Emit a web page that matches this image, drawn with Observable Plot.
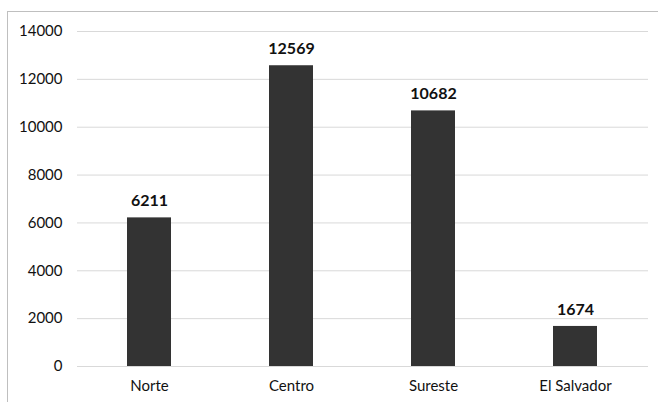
<!DOCTYPE html>
<html>
<head>
<meta charset="utf-8">
<script src="https://cdn.jsdelivr.net/npm/d3@7"></script>
<script src="https://cdn.jsdelivr.net/npm/@observablehq/plot@0.6"></script>
<style>
  html, body { margin: 0; padding: 0; background: #fff; overflow: hidden; }
  #wrap { position: relative; width: 658px; height: 402px; }
  #frame { position: absolute; left: 7px; top: 11px; width: 700px; height: 450px; border: 1px solid #bfbfbf; box-sizing: border-box; }
  #chart { position: absolute; left: 0; top: 0; }
</style>
</head>
<body>
<div id="wrap"><div id="frame"></div><div id="chart"></div></div>
<script>
const regions = ["Norte", "Centro", "Sureste", "El Salvador"];
const values = [6211, 12569, 10682, 1674];
const yTicks = [0, 2000, 4000, 6000, 8000, 10000, 12000, 14000];

const data = regions.map((r, i) => ({region: r, value: values[i]}));
const font = "Lato, 'Open Sans', sans-serif";

const chart = Plot.plot({
  width: 658,
  height: 402,
  marginLeft: 77,
  marginRight: 10,
  marginTop: 31,
  marginBottom: 36,
  style: {fontFamily: font, fontSize: "15px", color: "#111", background: "transparent"},
  x: {domain: regions, paddingInner: 0.69, paddingOuter: 0.345, label: null},
  y: {domain: [0, 14000], ticks: yTicks, label: null},
  marks: [
    Plot.gridY(yTicks, {stroke: "#d9d9d9", strokeOpacity: 1, strokeWidth: 1}),
    Plot.barY(data, {x: "region", y: "value", fill: "#333333"}),
    Plot.text(data, {x: "region", y: "value", text: d => String(d.value), dy: -17, fontWeight: "bold", fontSize: 16, fill: "#111"}),
    Plot.axisY({ticks: yTicks, tickSize: 0, tickPadding: 15, tickFormat: d => String(d), fontSize: 15, fill: "#111"}),
    Plot.axisX({tickSize: 0, tickPadding: 14, fontSize: 15, fill: "#111"})
  ]
});
document.getElementById("chart").appendChild(chart);
</script>
</body>
</html>
